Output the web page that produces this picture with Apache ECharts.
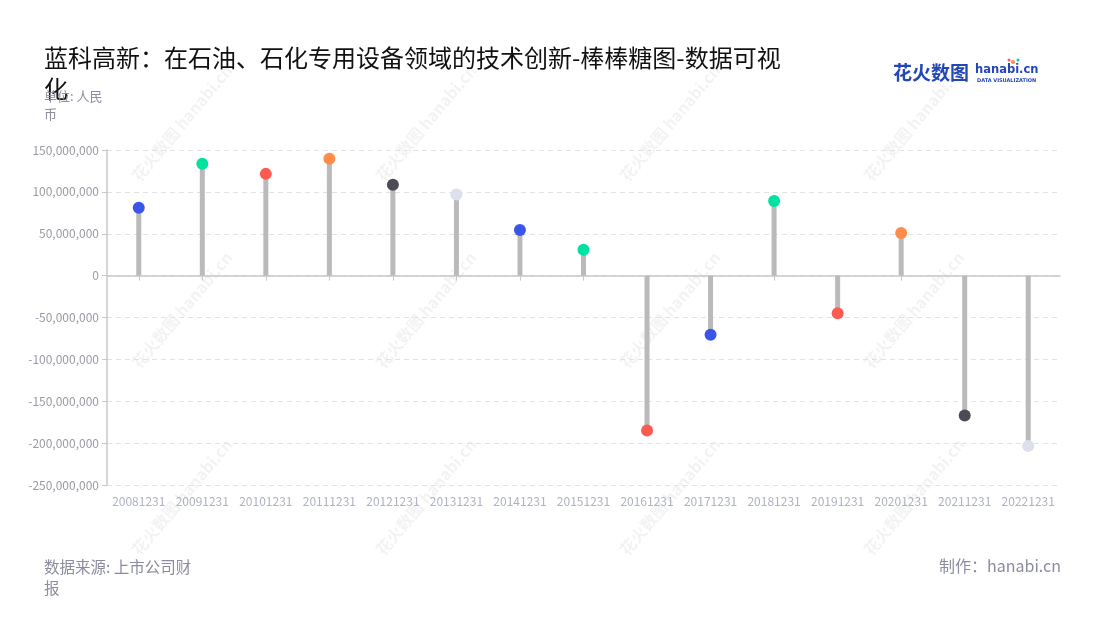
<!DOCTYPE html>
<html>
<head>
<meta charset="utf-8">
<script src="https://cdn.jsdelivr.net/npm/echarts@6/dist/echarts.min.js"></script>
<style>
html,body{margin:0;padding:0;background:#fff;}
#c{width:1100px;height:620px;}
</style>
</head>
<body>
<div id="c"></div>
<script>
const categories = ['20081231','20091231','20101231','20111231','20121231','20131231','20141231','20151231','20161231','20171231','20181231','20191231','20201231','20211231','20221231'];
const values = [81000000,133500000,121500000,139500000,108500000,97000000,54500000,31000000,-185000000,-70500000,89000000,-45000000,51000000,-167000000,-203500000];
const dotColors = ['#3a56e8','#00e2a0','#ff5a50','#ff8c4a','#4b4b56','#dde0ec','#3a56e8','#00e2a0','#ff5a50','#3a56e8','#00e2a0','#ff5a50','#ff8c4a','#4b4b56','#dde0ec'];
const yTicks = {min:-250000000, max:150000000, interval:50000000};

const FONT = '"Noto Sans CJK SC","Noto Sans",sans-serif';
const chart = echarts.init(document.getElementById('c'));

const wm = [];
const wmX = [182, 426, 670, 914];
const wmY = [123, 310, 497];
wmX.forEach(x => wmY.forEach(y => {
  wm.push({
    type:'text', x:x, y:y, rotation: Math.PI*50/180, silent:true, z:0,
    style:{text:'花火数图 hanabi.cn', font:'bold 16px '+FONT, fill:'rgba(0,0,0,0.05)', align:'center', verticalAlign:'middle'}
  });
}));

chart.setOption({
  backgroundColor:'#fff',
  animation:false,
  title:[{
    text:'蓝科高新：在石油、石化专用设备领域的技术创新-棒棒糖图-数据可视化',
    left:39, top:37,
    textStyle:{fontFamily:FONT, fontSize:24, fontWeight:'normal', color:'#111', width:745, overflow:'break', lineHeight:31}
  },{
    text:'单位: 人民币',
    left:39, top:82,
    textStyle:{fontFamily:FONT, fontSize:13, fontWeight:'normal', color:'#8c8ca0', width:72, overflow:'break', lineHeight:18}
  },{
    text:'数据来源: 上市公司财\n报',
    left:39, top:552,
    textStyle:{fontFamily:FONT, fontSize:15.5, fontWeight:'normal', color:'#8c8ca0', lineHeight:21}
  },{
    text:'制作：hanabi.cn',
    right:34, top:553,
    textStyle:{fontFamily:FONT, fontSize:16, fontWeight:'normal', color:'#8c8ca0'}
  }],
  graphic: wm.concat([
    {type:'text', x:893, y:73, z:10, style:{text:'花火数图', font:'bold 19px '+FONT, fill:'#2346b8', verticalAlign:'middle'}},
    {type:'text', x:975, y:70, z:10, style:{text:'hanabi.cn', font:'bold 11.5px "DejaVu Sans",sans-serif', fill:'#2346b8', verticalAlign:'middle'}},
    {type:'text', x:977, y:81, z:10, style:{text:'DATA VISUALIZATION', font:'bold 5px "DejaVu Sans",sans-serif', fill:'#2346b8', verticalAlign:'middle'}},
    {type:'circle', shape:{cx:1013, cy:62, r:2}, style:{fill:'#ff8c4a'}, z:10},
    {type:'circle', shape:{cx:1018, cy:60, r:1.5}, style:{fill:'#00c8e0'}, z:10},
    {type:'circle', shape:{cx:1009, cy:60, r:1.5}, style:{fill:'#ff5a50'}, z:10}
  ]),
  grid:{left:107, right:40, top:150, bottom:135, containLabel:false},
  xAxis:{
    type:'category', data:categories,
    axisLine:{lineStyle:{color:'#c8c8c8', width:1.5}},
    axisTick:{show:true, alignWithLabel:true, lineStyle:{color:'#c8c8c8'}},
    axisLabel:{color:'#aeb2c2', fontSize:12, fontFamily:FONT, margin:10, interval:0},
    splitLine:{show:false}
  },
  yAxis:{
    type:'value', min:yTicks.min, max:yTicks.max, interval:yTicks.interval,
    axisLine:{show:true, lineStyle:{color:'#c8c8c8', width:1.5}},
    axisTick:{show:true, lineStyle:{color:'#c8c8c8'}},
    axisLabel:{color:'#9a9aa4', fontSize:12, fontFamily:FONT, formatter:v=>v.toLocaleString('en-US')},
    splitLine:{show:true, lineStyle:{color:'#e2e2e2', type:[5,4]}}
  },
  series:[{
    type:'bar', data:values, barWidth:5, itemStyle:{color:'#bababa'}, z:2, silent:true
  },{
    type:'scatter', data:values.map((v,i)=>({value:v, itemStyle:{color:dotColors[i], opacity:1}})),
    symbolSize:12, z:3
  }]
});
</script>
</body>
</html>
